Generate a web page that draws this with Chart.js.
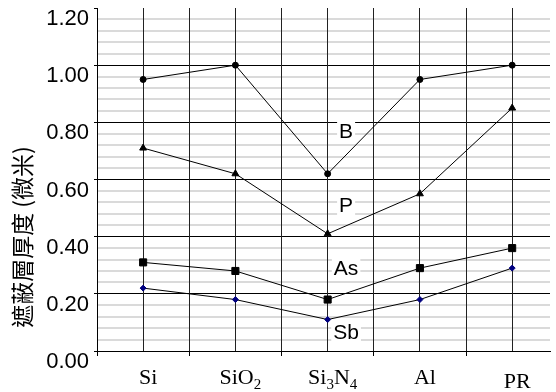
<!DOCTYPE html>
<html>
<head>
<meta charset="utf-8">
<script src="https://cdn.jsdelivr.net/npm/chart.js@4/dist/chart.umd.min.js"></script>
<style>
  body { margin: 0; background: #fff; overflow: hidden; }
  #wrap { width: 556px; height: 392px; }
</style>
</head>
<body>
<div id="wrap"><canvas id="myChart"></canvas></div>
<script>
// category names, digits are drawn as subscripts
const categories = ['Si', 'SiO2', 'Si3N4', 'Al', 'PR'];

const seriesNames = ['B', 'P', 'As', 'Sb'];
const valuesB  = [0.95, 1.00, 0.62, 0.95, 1.00];
const valuesP  = [0.71, 0.62, 0.41, 0.55, 0.85];
const valuesAs = [0.31, 0.28, 0.18, 0.29, 0.36];
const valuesSb = [0.22, 0.18, 0.11, 0.18, 0.29];

// where the series names sit (value on the y axis)
const nameValues = [0.77, 0.51, 0.29, 0.065];

const yTickLabels = ['0.00', '0.20', '0.40', '0.60', '0.80', '1.00', '1.20'];
const yTitle = '遮蔽層厚度 (微米)';

const toPoints = vals => vals.map((v, i) => ({ x: i, y: v }));

const sansFont = '"Liberation Sans", Arial, sans-serif';

// draws category labels, series names and the axis title
const labelsPlugin = {
    id: 'labels',
    beforeDatasetsDraw(chart) {
        const ctx = chart.ctx;
        const xs = chart.scales.x, ys = chart.scales.y;
        ctx.save();
        ctx.font = '21px ' + sansFont;
        ctx.textAlign = 'center';
        ctx.textBaseline = 'middle';
        seriesNames.forEach((name, i) => {
            const px = xs.getPixelForValue(2.2);
            const py = ys.getPixelForValue(nameValues[i]);
            const w = ctx.measureText(name).width;
            ctx.fillStyle = '#fff';
            ctx.fillRect(px - w / 2 - 2, py - 11, w + 4, 22);
            ctx.fillStyle = '#000';
            ctx.fillText(name, px, py + 1);
        });
        ctx.restore();
    },
    afterDraw(chart) {
        const ctx = chart.ctx;
        const xs = chart.scales.x;
        ctx.save();
        ctx.fillStyle = '#000';
        ctx.textBaseline = 'alphabetic';
        ctx.textAlign = 'left';
        const big = '22px "Liberation Serif", "Times New Roman", serif';
        const small = '15px "Liberation Serif", "Times New Roman", serif';
        categories.forEach((cat, i) => {
            const parts = cat.match(/[A-Za-z]+|\d+/g);
            let total = 0;
            parts.forEach(p => {
                ctx.font = /\d/.test(p) ? small : big;
                total += ctx.measureText(p).width;
            });
            let x = xs.getPixelForValue(i) + 5 - total / 2;
            const base = i === 4 ? 388 : 384;
            parts.forEach(p => {
                const sub = /\d/.test(p);
                ctx.font = sub ? small : big;
                ctx.fillText(p, x, sub ? base + 5 : base);
                x += ctx.measureText(p).width;
            });
        });

        ctx.translate(22, 237);
        ctx.rotate(-Math.PI / 2);
        ctx.textAlign = 'center';
        ctx.textBaseline = 'middle';
        ctx.font = '23px "Noto Sans CJK TC", "Noto Sans CJK SC", sans-serif';
        ctx.fillText(yTitle, 0, 0);
        ctx.restore();
    }
};

const ctx = document.getElementById('myChart').getContext('2d');
const chart = new Chart(ctx, {
    type: 'line',
    data: {
        datasets: [
            { label: 'B', data: toPoints(valuesB), pointStyle: 'circle', pointRadius: 3, pointBackgroundColor: '#000', pointBorderColor: '#000' },
            { label: 'P', data: toPoints(valuesP), pointStyle: 'triangle', pointRadius: 4, pointBackgroundColor: '#000', pointBorderColor: '#000' },
            { label: 'As', data: toPoints(valuesAs), pointStyle: 'rect', pointRadius: 5, pointBackgroundColor: '#000', pointBorderColor: '#000' },
            { label: 'Sb', data: toPoints(valuesSb), pointStyle: 'rectRot', pointRadius: 3, pointBackgroundColor: '#000080', pointBorderColor: '#000080' }
        ].map(d => Object.assign(d, { borderColor: '#000', borderWidth: 1, tension: 0, pointBorderWidth: 1 }))
    },
    options: {
        responsive: true,
        maintainAspectRatio: false,
        animation: false,
        layout: { padding: { top: 8, right: 0, left: 0, bottom: 0 } },
        plugins: {
            legend: { display: false },
            tooltip: { enabled: false }
        },
        scales: {
            x: {
                type: 'linear',
                min: -0.5,
                max: 4.41,
                afterFit: s => {
                    s.height = 41;
                    s.paddingLeft = 0;
                    s.paddingRight = 0;
                },
                afterBuildTicks: s => {
                    const t = [];
                    for (let k = -1; k <= 8; k++) t.push({ value: k / 2 });
                    s.ticks = t;
                },
                ticks: { display: false },
                grid: {
                    color: '#222',
                    lineWidth: 1,
                    tickLength: 5,
                    tickColor: c => (c.tick && c.tick.value % 1 !== 0) ? '#000' : 'rgba(0,0,0,0)',
                    z: 0
                },
                border: { display: true, color: '#000', width: 1 }
            },
            y: {
                min: 0,
                max: 1.2,
                afterFit: s => {
                    s.width = 97;
                    s.paddingTop = 0;
                    s.paddingBottom = 0;
                },
                afterBuildTicks: s => {
                    const t = [];
                    for (let k = 0; k <= 30; k++) t.push({ value: Math.round(k * 4) / 100 });
                    s.ticks = t;
                },
                ticks: {
                    autoSkip: false,
                    padding: 5,
                    labelOffset: 11,
                    color: '#000',
                    font: { family: sansFont, size: 22 },
                    callback: (v, i) => i % 5 === 0 ? yTickLabels[i / 5] : ''
                },
                grid: {
                    z: -1,
                    color: c => {
                        const i = c.index;
                        if (i === 0 || i === 30) return 'rgba(0,0,0,0)';
                        return i % 5 === 0 ? '#000' : '#dadada';
                    },
                    lineWidth: c => c.index % 5 === 0 ? 1 : 2,
                    tickLength: 3,
                    tickColor: c => c.index % 5 === 0 ? '#000' : 'rgba(0,0,0,0)'
                },
                border: { display: true, color: '#000', width: 1 }
            }
        }
    },
    plugins: [labelsPlugin]
});
</script>
</body>
</html>
